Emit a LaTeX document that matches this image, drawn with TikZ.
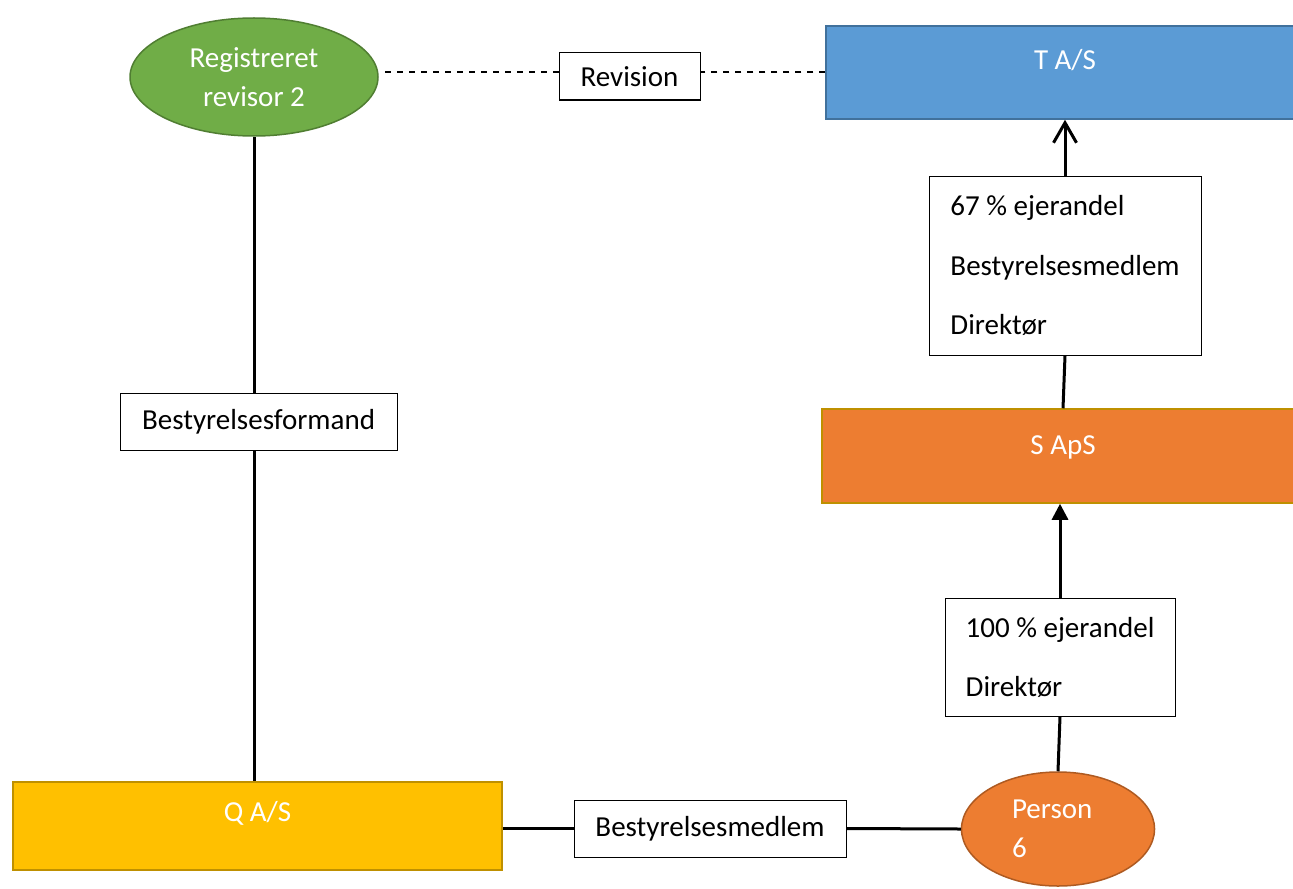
\documentclass[tikz,border=0pt]{standalone}
\usepackage{fontspec}
\setmainfont{Carlito}
\usetikzlibrary{shapes.geometric,arrows.meta}

\definecolor{revGreen}{HTML}{70AD47}
\definecolor{revGreenLine}{HTML}{507E32}
\definecolor{tBlue}{HTML}{5B9BD5}
\definecolor{tBlueLine}{HTML}{41719C}
\definecolor{sOrange}{HTML}{ED7D31}
\definecolor{personLine}{HTML}{AE5A21}
\definecolor{qGold}{HTML}{FFC000}
\definecolor{goldLine}{HTML}{BF9000}

\begin{document}
\begin{tikzpicture}[x=0.5pt,y=-0.5pt,
  every node/.style={align=center,font=\fontsize{14.5}{19.5}\selectfont},
  company/.style={draw,line width=0.75pt,inner xsep=0pt,inner ysep=0pt,text=white},
  owner/.style={ellipse,draw,line width=0.75pt,inner sep=0pt,text=white},
  role/.style={draw,line width=0.5pt,fill=white,inner sep=0pt},
  link/.style={line width=1.5pt},
  own/.style={line width=1.5pt,-{Straight Barb[length=10pt,width=11.5pt]}},
  ownFill/.style={line width=1.5pt,-{Triangle[length=8pt,width=8pt]}},
  audit/.style={line width=1pt,dash pattern=on 3pt off 3pt}]

\useasboundingbox (0,0) rectangle (1293,888);

% Companies and persons
\node[owner,fill=revGreen,draw=revGreenLine,minimum width=124pt,minimum height=59pt]
  (registeredAuditor) at (254,77) {Registreret\\revisor 2};
\node[company,fill=tBlue,draw=tBlueLine,minimum width=239pt,text height=21.5pt,text depth=25pt]
  (tAS) at (1065,72.5) {T A/S};
\node[company,fill=sOrange,draw=goldLine,minimum width=241pt,text height=22.5pt,text depth=24.5pt]
  (sApS) at (1063,456) {S ApS};
\node[company,fill=qGold,draw=goldLine,minimum width=244.5pt,text height=19.5pt,text depth=24.5pt]
  (qAS) at (257.5,826) {Q A/S};
\node[owner,fill=sOrange,draw=personLine,minimum width=96.5pt,minimum height=57pt,
  text width=46pt,align=left]
  (personSix) at (1058,829) {Person\\6};

% Roles and ownership
\node[role,minimum width=70.5pt,minimum height=23.5pt] (revision) at (629.5,76.5) {Revision};
\node[role,minimum width=138.5pt,minimum height=28.5pt] (chairman) at (258.5,421.5) {Bestyrelsesformand};
\node[role,minimum width=136pt,minimum height=28.5pt] (boardMember) at (710,828.5) {Bestyrelsesmedlem};
\node[role,minimum width=136pt,minimum height=89.5pt,align=left,
  font=\fontsize{14.5}{29.75}\selectfont] (ownershipT) at (1065,265.5)
  {67 \% ejerandel\\Bestyrelsesmedlem\\Direktør};
\node[role,minimum width=115pt,minimum height=59pt,align=left,
  font=\fontsize{14.5}{29.5}\selectfont] (ownershipS) at (1060,657)
  {100 \% ejerandel\\Direktør};

% Connectors
\draw[audit] (tAS.west) -- (revision.east |- tAS.west);
\draw[audit] (revision.west |- tAS.west) -- (registeredAuditor.east |- tAS.west);
\draw[link] (registeredAuditor.south) -- (registeredAuditor.south |- chairman.north);
\draw[link] (registeredAuditor.south |- chairman.south) -- (registeredAuditor.south |- qAS.north);
\draw[link] (boardMember.west) -- (boardMember.west -| qAS.east);
\draw[link] (boardMember.east) -- (personSix.west);
\draw[link] (personSix.north) -- (ownershipS.south);
\draw[ownFill] (ownershipS.north) -- (ownershipS.north |- sApS.south);
\draw[link] (sApS.north) -- (ownershipT.south);
\draw[own] (ownershipT.north) -- (tAS.south);

\end{tikzpicture}
\end{document}
